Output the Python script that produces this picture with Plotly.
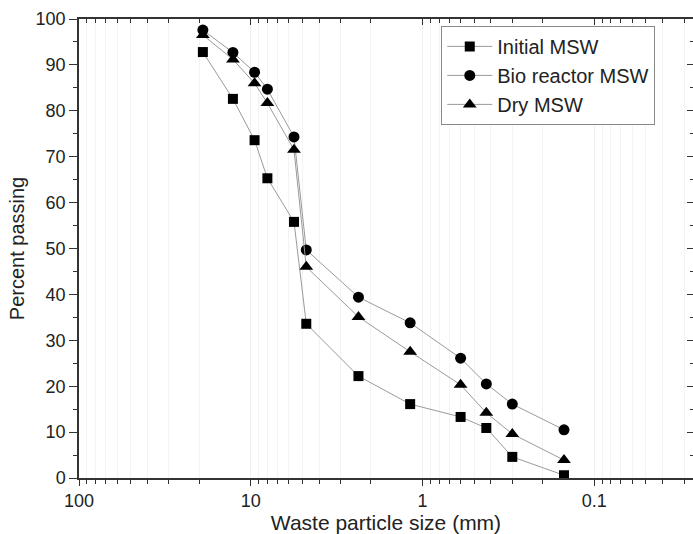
import plotly.graph_objects as go

sizes = [19, 12.7, 9.5, 8.0, 5.6, 4.75, 2.36, 1.18, 0.6, 0.425, 0.3, 0.15]
initial = [92.8, 82.6, 73.6, 65.3, 55.8, 33.6, 22.2, 16.1, 13.3, 10.9, 4.6, 0.6]
bio = [97.6, 92.7, 88.4, 84.7, 74.3, 49.7, 39.4, 33.8, 26.1, 20.5, 16.1, 10.5]
dry = [96.5, 91.2, 86.0, 81.7, 71.5, 46.0, 35.1, 27.5, 20.3, 14.2, 9.6, 3.9]

series = [
    ("Initial MSW", initial, "square", 10),
    ("Bio reactor MSW", bio, "circle", 11),
    ("Dry MSW", dry, "triangle-up", 12),
]

fig = go.Figure()
for name, vals, sym, sz in series:
    fig.add_trace(go.Scatter(
        x=sizes, y=vals, name=name, mode="lines+markers",
        line=dict(color="#9a9a9a", width=1),
        marker=dict(symbol=sym, size=sz, color="black"),
    ))
# invisible trace for mirrored axes
fig.add_trace(go.Scatter(x=[10], y=[50], xaxis="x2", yaxis="y2", showlegend=False,
                         mode="markers", marker=dict(opacity=0), hoverinfo="skip"))

xr = [2, -1.575]
font = "Liberation Sans, Arial, sans-serif"
fig.update_layout(
    template="none",
    width=693, height=534,
    margin=dict(l=79, r=0, t=19, b=56),
    paper_bgcolor="white", plot_bgcolor="white",
    font=dict(family=font, color="#222", size=14),
    xaxis=dict(
        type="log", range=xr, showline=True, linecolor="#333", linewidth=1.5,
        ticks="outside", ticklen=6, tickcolor="#333", tickwidth=1.3,
        tickvals=[100, 10, 1, 0.1], ticktext=["100", "10", "1", "0.1"],
        tickfont=dict(size=18), automargin=False,
        showgrid=True, gridcolor="#f0f0f0", gridwidth=1,
        minor=dict(ticks="outside", ticklen=4, tickcolor="#333", tickwidth=1.2,
                   showgrid=True, gridcolor="#f3f3f3", dtick="D1"),
        title=dict(text="Waste particle size (mm)", font=dict(size=21), standoff=2),
        zeroline=False,
    ),
    yaxis=dict(
        range=[0, 100], showline=True, linecolor="#333", linewidth=1.5,
        ticks="outside", ticklen=8, tickcolor="#333", tickwidth=1.3,
        dtick=10, tickfont=dict(size=18), showgrid=False, zeroline=False,
        automargin=False,
        minor=dict(ticks="outside", ticklen=4, tickcolor="#333", dtick=5, tickwidth=1.2),
        title=dict(text="Percent passing", font=dict(size=20), standoff=6),
    ),
    xaxis2=dict(
        type="log", range=xr, overlaying="x", side="top", anchor="y",
        showline=True, linecolor="#333", linewidth=1.5,
        ticks="inside", ticklen=6, tickcolor="#333", tickwidth=1.3,
        tickvals=[100, 10, 1, 0.1], showticklabels=False, showgrid=False,
        minor=dict(ticks="inside", ticklen=4, tickcolor="#333", tickwidth=1.2, dtick="D1"),
        zeroline=False, automargin=False,
    ),
    yaxis2=dict(
        range=[0, 100], overlaying="y", side="right", anchor="x",
        showline=False, ticks="inside", ticklen=6, tickcolor="#333", tickwidth=1.3,
        dtick=10, showticklabels=False, showgrid=False, zeroline=False,
        minor=dict(ticks="inside", ticklen=3, tickcolor="#333", dtick=5),
        automargin=False,
    ),
    legend=dict(
        x=0.59, y=0.985, xanchor="left", yanchor="top",
        bordercolor="#888", borderwidth=1, bgcolor="white",
        font=dict(size=20, color="#222"), tracegroupgap=0,
        itemwidth=45,
    ),
    showlegend=True,
)

fig.write_html("out.html")
